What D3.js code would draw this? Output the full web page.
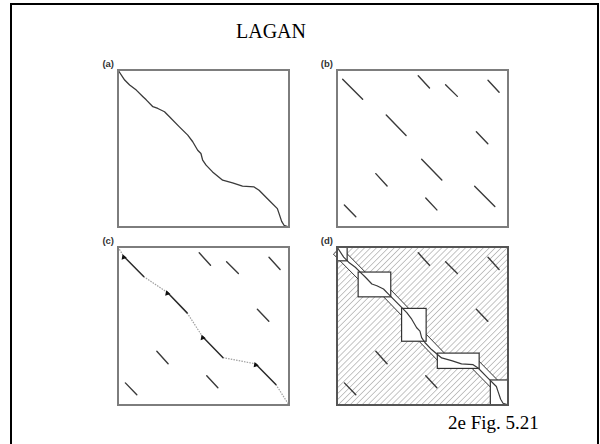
<!DOCTYPE html>
<html>
<head>
<meta charset="utf-8">
<script src="https://cdn.jsdelivr.net/npm/d3@7"></script>
<style>
  html, body { margin: 0; padding: 0; background: #fff; }
  svg { display: block; }
</style>
</head>
<body>
<svg id="chart" width="600" height="444"></svg>
<script>
// ---- data (unit square: 0 = top/left, 1 = bottom/right of each dot plot) ----

// global alignment path through the dot plot
const alignmentPath = [
  [0, 0], [0.039, 0.064], [0.068, 0.096], [0.107, 0.128], [0.146, 0.17],
  [0.165, 0.19], [0.204, 0.234], [0.233, 0.245], [0.272, 0.266], [0.301, 0.298],
  [0.359, 0.362], [0.408, 0.415], [0.437, 0.457], [0.466, 0.511], [0.485, 0.532],
  [0.495, 0.574], [0.515, 0.606], [0.553, 0.649], [0.612, 0.702], [0.67, 0.719],
  [0.728, 0.74], [0.796, 0.745], [0.825, 0.766], [0.883, 0.83], [0.932, 0.883],
  [0.942, 0.915], [0.957, 0.964], [0.971, 0.989], [1, 1]
];

// local hits chosen as anchors: [x1, y1, x2, y2]
const anchorHits = [
  [0.033, 0.059, 0.150, 0.187],
  [0.288, 0.287, 0.404, 0.417],
  [0.495, 0.568, 0.613, 0.700],
  [0.805, 0.740, 0.923, 0.870]
];

// remaining local hits: [x1, y1, x2, y2]
const otherHits = [
  [0.475, 0.037, 0.541, 0.115],
  [0.635, 0.094, 0.704, 0.168],
  [0.883, 0.065, 0.948, 0.142],
  [0.815, 0.394, 0.882, 0.470],
  [0.227, 0.660, 0.293, 0.739],
  [0.519, 0.815, 0.584, 0.891],
  [0.043, 0.860, 0.110, 0.935]
];

const panelLabels = ["(a)", "(b)", "(c)", "(d)"];
const titleText = "LAGAN";
const captionText = "2e Fig. 5.21";

// ---- layout ----
const layout = [
  { x: 118, y: 70,  w: 171, h: 157 },
  { x: 337, y: 70,  w: 171, h: 157 },
  { x: 118, y: 247, w: 171, h: 158 },
  { x: 337, y: 247, w: 171, h: 158 }
];

const svg = d3.select("#chart");
const defs = svg.append("defs");

svg.append("rect").attr("width", 600).attr("height", 444).attr("fill", "#fff");

// slide frame
svg.append("rect")
  .attr("x", 11).attr("y", 4).attr("width", 587).attr("height", 520)
  .attr("fill", "none").attr("stroke", "#000").attr("stroke-width", 2);

svg.append("text")
  .attr("x", 236).attr("y", 38)
  .attr("font-family", "'Liberation Serif', 'Times New Roman', serif")
  .attr("font-size", 20).attr("fill", "#000")
  .text(titleText);

svg.append("text")
  .attr("x", 448).attr("y", 429)
  .attr("font-family", "'Liberation Serif', 'Times New Roman', serif")
  .attr("font-size", 19).attr("fill", "#000")
  .text(captionText);

// diagonal hatching for the excluded search space
const hatch = defs.append("pattern")
  .attr("id", "hatch")
  .attr("patternUnits", "userSpaceOnUse")
  .attr("width", 4.2).attr("height", 4.2)
  .attr("patternTransform", "rotate(45)");
hatch.append("line")
  .attr("x1", 0).attr("y1", 0).attr("x2", 0).attr("y2", 4.2)
  .attr("stroke", "#969696").attr("stroke-width", 1.1);

function scalesFor(p) {
  return {
    x: d3.scaleLinear().domain([0, 1]).range([p.x, p.x + p.w]),
    y: d3.scaleLinear().domain([0, 1]).range([p.y, p.y + p.h])
  };
}

function drawHits(g, s, hits, color, width) {
  g.selectAll(null).data(hits).join("line")
    .attr("x1", d => s.x(d[0])).attr("y1", d => s.y(d[1]))
    .attr("x2", d => s.x(d[2])).attr("y2", d => s.y(d[3]))
    .attr("stroke", color).attr("stroke-width", width)
    .attr("stroke-linecap", "round");
}

function frame(g, p, color) {
  g.append("rect")
    .attr("x", p.x).attr("y", p.y).attr("width", p.w).attr("height", p.h)
    .attr("fill", "none").attr("stroke", color).attr("stroke-width", 2);
}

function label(g, p, txt) {
  g.append("text")
    .attr("x", p.x - 4).attr("y", p.y - 3)
    .attr("text-anchor", "end")
    .attr("font-family", "'Liberation Sans', Arial, sans-serif")
    .attr("font-size", 9.5).attr("font-weight", "bold")
    .attr("fill", "#333")
    .text(txt);
}

const lineColor = "#3a3a3a";

// (a) global alignment
{
  const p = layout[0], s = scalesFor(p), g = svg.append("g");
  const line = d3.line().x(d => s.x(d[0])).y(d => s.y(d[1]));
  g.append("path").attr("d", line(alignmentPath))
    .attr("fill", "none").attr("stroke", lineColor).attr("stroke-width", 1.3)
    .attr("stroke-linejoin", "round");
  frame(g, p, "#7d7d7d");
  label(g, p, panelLabels[0]);
}

// (b) local hits
{
  const p = layout[1], s = scalesFor(p), g = svg.append("g");
  drawHits(g, s, anchorHits.concat(otherHits), lineColor, 1.4);
  frame(g, p, "#7d7d7d");
  label(g, p, panelLabels[1]);
}

// (c) anchors chained, gaps dotted
{
  const p = layout[2], s = scalesFor(p), g = svg.append("g");
  drawHits(g, s, otherHits, lineColor, 1.4);
  // gaps between consecutive anchors
  const gaps = [];
  let prev = [0, 0];
  anchorHits.forEach(a => { gaps.push([prev[0], prev[1], a[0], a[1]]); prev = [a[2], a[3]]; });
  gaps.push([prev[0], prev[1], 1, 1]);
  g.selectAll(null).data(gaps).join("line")
    .attr("x1", d => s.x(d[0])).attr("y1", d => s.y(d[1]))
    .attr("x2", d => s.x(d[2])).attr("y2", d => s.y(d[3]))
    .attr("stroke", "#a0a0a0").attr("stroke-width", 1.2)
    .attr("stroke-dasharray", "1.5,1.2");
  drawHits(g, s, anchorHits, "#2a2a2a", 1.5);
  // markers at anchor starts
  const tri = d3.symbol().type(d3.symbolTriangle).size(13);
  g.selectAll(null).data(anchorHits).join("path")
    .attr("d", tri)
    .attr("transform", d => `translate(${s.x(d[0])},${s.y(d[1]) + 1}) rotate(-20)`)
    .attr("fill", "#111");
  frame(g, p, "#7d7d7d");
  label(g, p, panelLabels[2]);
}

// (d) restricted search space
{
  const p = layout[3], s = scalesFor(p), g = svg.append("g");
  g.append("rect")
    .attr("x", p.x).attr("y", p.y).attr("width", p.w).attr("height", p.h)
    .attr("fill", "url(#hatch)");

  const pad = 4.5, bandHalf = 5, bandExt = 8;
  const clamp = (v, lo, hi) => Math.max(lo, Math.min(hi, v));

  // boxes between consecutive anchors
  const boxes = [];
  let prev = [0, 0];
  anchorHits.forEach(a => { boxes.push([prev[0], prev[1], a[0], a[1]]); prev = [a[2], a[3]]; });
  boxes.push([prev[0], prev[1], 1, 1]);
  const boxRects = boxes.map(b => {
    const x0 = clamp(s.x(b[0]) - pad, p.x, p.x + p.w);
    const y0 = clamp(s.y(b[1]) - pad, p.y, p.y + p.h);
    const x1 = clamp(s.x(b[2]) + pad, p.x, p.x + p.w);
    const y1 = clamp(s.y(b[3]) + pad, p.y, p.y + p.h);
    return { x: x0, y: y0, w: x1 - x0, h: y1 - y0 };
  });

  // corridors around each anchor
  const bands = anchorHits.map(a => {
    const ax = s.x(a[0]), ay = s.y(a[1]), bx = s.x(a[2]), by = s.y(a[3]);
    const len = Math.hypot(bx - ax, by - ay);
    const ux = (bx - ax) / len, uy = (by - ay) / len, nx = -uy, ny = ux;
    const sx0 = ax - ux * bandExt, sy0 = ay - uy * bandExt;
    const sx1 = bx + ux * bandExt, sy1 = by + uy * bandExt;
    return [
      [sx0 + nx * bandHalf, sy0 + ny * bandHalf],
      [sx1 + nx * bandHalf, sy1 + ny * bandHalf],
      [sx1 - nx * bandHalf, sy1 - ny * bandHalf],
      [sx0 - nx * bandHalf, sy0 - ny * bandHalf]
    ];
  });

  const clip = defs.append("clipPath").attr("id", "searchSpace");
  clip.selectAll(null).data(boxRects).join("rect")
    .attr("x", d => d.x).attr("y", d => d.y).attr("width", d => d.w).attr("height", d => d.h);
  clip.selectAll(null).data(bands).join("polygon")
    .attr("points", d => d.map(q => q.join(",")).join(" "));

  drawHits(g, s, otherHits, lineColor, 1.4);

  g.selectAll(null).data(bands).join("polygon")
    .attr("points", d => d.map(q => q.join(",")).join(" "))
    .attr("fill", "#fff").attr("stroke", "#333").attr("stroke-width", 1);
  g.selectAll(null).data(boxRects).join("rect")
    .attr("x", d => d.x).attr("y", d => d.y).attr("width", d => d.w).attr("height", d => d.h)
    .attr("fill", "#fff").attr("stroke", "#333").attr("stroke-width", 1.2);

  const line = d3.line().x(d => s.x(d[0])).y(d => s.y(d[1]));
  g.append("path").attr("d", line(alignmentPath))
    .attr("clip-path", "url(#searchSpace)")
    .attr("fill", "none").attr("stroke", lineColor).attr("stroke-width", 1.2)
    .attr("stroke-linejoin", "round");

  frame(g, p, "#555");
  label(g, p, panelLabels[3]);
}
</script>
</body>
</html>
